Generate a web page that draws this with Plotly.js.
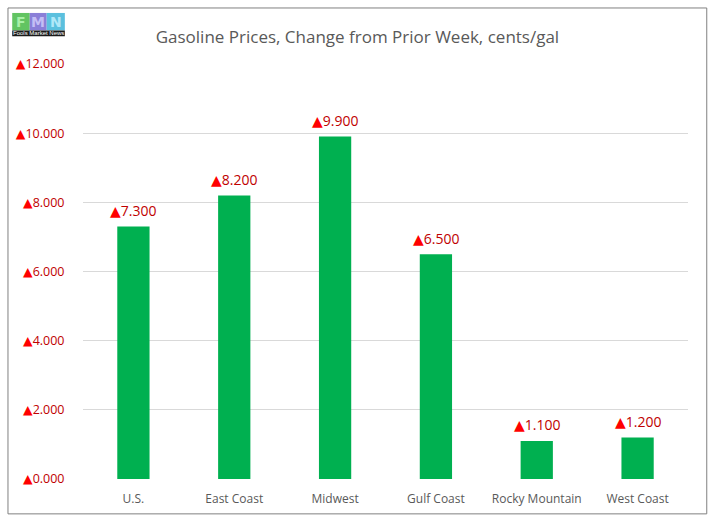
<!DOCTYPE html>
<html><head><meta charset="utf-8">
<script src="https://cdn.plot.ly/plotly-3.0.1.min.js"></script>
<style>body{margin:0;background:#fff}#chart{width:712px;height:521px}</style>
</head><body><div id="chart"></div>
<script>
const categories = ["U.S.", "East Coast", "Midwest", "Gulf Coast", "Rocky Mountain", "West Coast"];
const changes = [7.3, 8.2, 9.9, 6.5, 1.1, 1.2];
const tickValues = [0, 2, 4, 6, 8, 10, 12];

const tri = '<span style="color:#ff0000;font-family:DejaVu Sans">▲</span>';
const fmt = v => tri + v.toFixed(3);

const trace = {
  type: 'bar',
  x: categories,
  y: changes,
  marker: {color: '#00b050'},
  width: 0.32,
  hoverinfo: 'x+y'
};

const valueLabels = categories.map((c, i) => ({
  x: c, y: changes[i], xref: 'x', yref: 'y', text: fmt(changes[i]),
  showarrow: false, xanchor: 'center', yanchor: 'middle', yshift: 16,
  font: {family: 'Open Sans, sans-serif', size: 14, color: '#c00000'}
}));

const logoFont = 'DejaVu Sans';
const layout = {
  width: 712, height: 521,
  margin: {l: 83, r: 24, t: 64, b: 42},
  paper_bgcolor: '#fff', plot_bgcolor: '#fff',
  showlegend: false,
  title: {text: 'Gasoline Prices, Change from Prior Week, cents/gal',
    font: {family: 'Open Sans, sans-serif', size: 17, color: '#595959'},
    x: 0.502, xanchor: 'center', y: 0.928, yanchor: 'middle'},
  xaxis: {type: 'category', showgrid: false, zeroline: false, showline: false,
    ticks: 'outside', ticklen: 9, tickcolor: 'rgba(0,0,0,0)',
    tickfont: {family: 'Open Sans, sans-serif', size: 12, color: '#595959'}},
  yaxis: {range: [0, 12], tickvals: tickValues, ticktext: tickValues.map(fmt),
    showgrid: true, gridcolor: '#d9d9d9', gridwidth: 1, zeroline: false, showline: false,
    ticks: 'outside', ticklen: 15, tickcolor: 'rgba(0,0,0,0)',
    tickfont: {family: 'Open Sans, sans-serif', size: 12.5, color: '#c00000'}},
  shapes: [
    {type: 'rect', xref: 'paper', yref: 'paper', x0: -0.124, x1: 1.031, y0: -0.084, y1: 1.135,
     line: {color: '#808080', width: 1}, fillcolor: 'rgba(0,0,0,0)', layer: 'below'},
    {type: 'rect', xref: 'paper', yref: 'paper', x0: -0.117, x1: -0.088, y0: 1.081, y1: 1.123,
     line: {width: 0}, fillcolor: '#62c462'},
    {type: 'rect', xref: 'paper', yref: 'paper', x0: -0.088, x1: -0.060, y0: 1.081, y1: 1.123,
     line: {width: 0}, fillcolor: '#8a7fd8'},
    {type: 'rect', xref: 'paper', yref: 'paper', x0: -0.060, x1: -0.030, y0: 1.081, y1: 1.123,
     line: {width: 0}, fillcolor: '#5bc0de'},
    {type: 'rect', xref: 'paper', yref: 'paper', x0: -0.117, x1: -0.030, y0: 1.067, y1: 1.081,
     line: {width: 0}, fillcolor: '#1a1a1a'}
  ],
  annotations: valueLabels.concat([
    {xref: 'paper', yref: 'paper', x: -0.1025, y: 1.102, xanchor: 'center', yanchor: 'middle', text: '<b>F</b>', showarrow: false,
     font: {family: logoFont, size: 14, color: '#a8f0a8'}},
    {xref: 'paper', yref: 'paper', x: -0.074, y: 1.102, xanchor: 'center', yanchor: 'middle', text: '<b>M</b>', showarrow: false,
     font: {family: logoFont, size: 14, color: '#c4bef5'}},
    {xref: 'paper', yref: 'paper', x: -0.045, y: 1.102, xanchor: 'center', yanchor: 'middle', text: '<b>N</b>', showarrow: false,
     font: {family: logoFont, size: 14, color: '#b0e8f8'}},
    {xref: 'paper', yref: 'paper', x: -0.0735, y: 1.074, xanchor: 'center', yanchor: 'middle', text: 'Fools Market News', showarrow: false,
     font: {family: 'Liberation Sans Narrow, Liberation Sans', size: 6, color: '#ffffff'}}
  ])
};

Plotly.newPlot('chart', [trace], layout, {displayModeBar: false, staticPlot: true});
</script></body></html>
